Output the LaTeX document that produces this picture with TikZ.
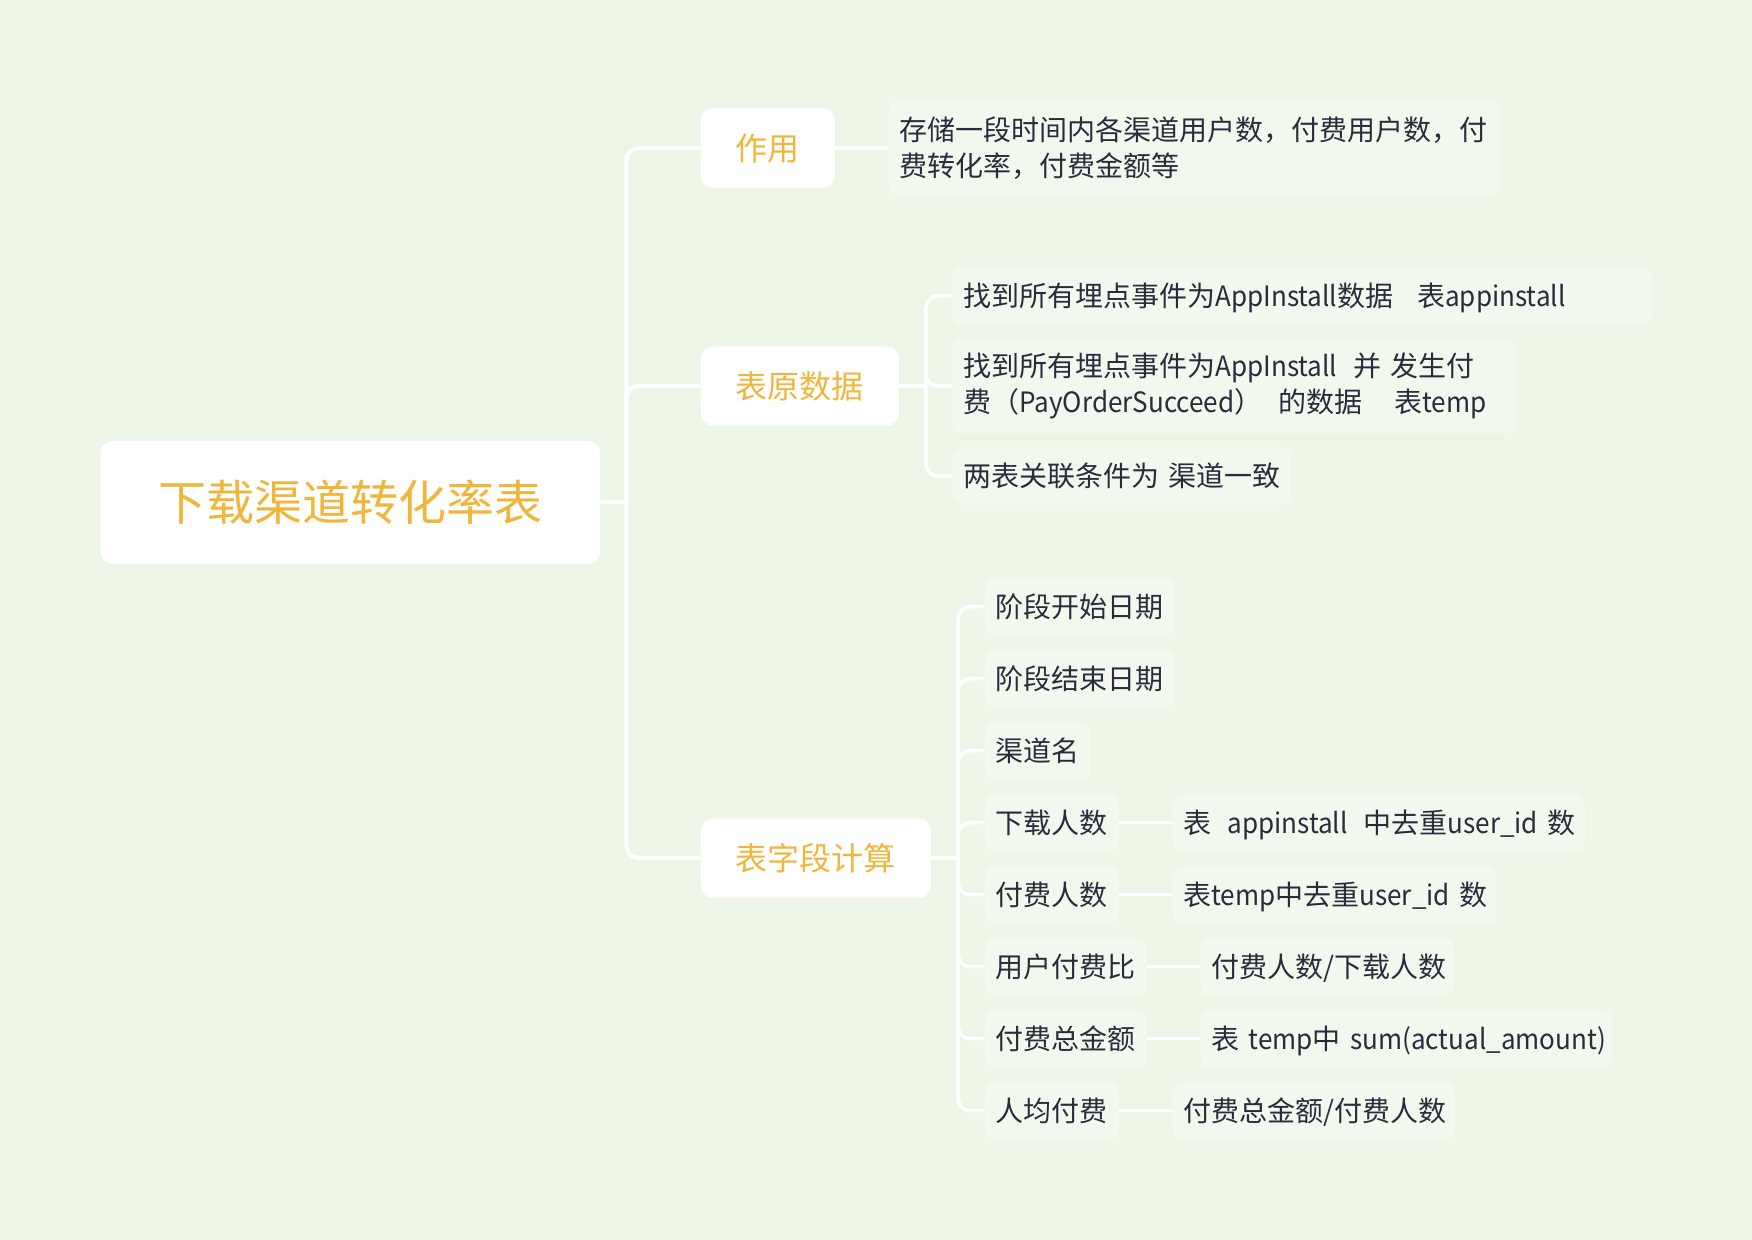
\documentclass[tikz,border=0pt]{standalone}
\usepackage{fontspec}
\setmainfont{Noto Sans CJK SC}
\newfontfamily\lat[FakeStretch=0.93]{Noto Sans CJK SC}
\definecolor{bgc}{HTML}{EDF5E7}
\definecolor{leaffill}{HTML}{F3F8EE}
\definecolor{topicorange}{HTML}{F0B53B}
\definecolor{ink}{HTML}{2A2C3C}
\begin{document}
\begin{tikzpicture}[x=0.5pt,y=-0.5pt,
  rootbox/.style={fill=white, rounded corners=6pt, minimum width=249.7pt, minimum height=61.5pt, inner sep=0pt, font=\fontsize{24}{28}\selectfont, text=topicorange},
  topic/.style={fill=white, rounded corners=6pt, minimum height=39.6pt, inner xsep=17.5pt, inner ysep=0pt, anchor=west, font=\fontsize{16}{19}\selectfont, text=topicorange},
  leaf/.style={fill=leaffill, rounded corners=5pt, inner xsep=5.5pt, inner ysep=0pt, minimum height=29pt, align=left, anchor=west, font=\fontsize{14}{17.8}\selectfont, text=ink},
  oneline/.style={text height=11.6pt, text depth=1pt},
  tw/.style={text width=#1},
  twoline/.style={minimum height=47.5pt},
  conn/.style={draw=white, line width=2pt, rounded corners=6pt},
  subconn/.style={draw=white, line width=1.75pt, rounded corners=6pt}
]
\fill[bgc] (0,0) rectangle (1752,1240);
\useasboundingbox (0,0) rectangle (1752,1240);

% root
\node[rootbox] (root) at (350.3,502.5) {下载渠道转化率表};

% topics
\node[topic] (zy) at (700.5,148) {作用};
\node[topic] (ys) at (700.5,386) {表原数据};
\node[topic] (zd) at (700.5,858) {表字段计算};

% 作用 leaf
\node[leaf, twoline, tw=294.75pt] (zyl) at (888,148) {\mbox{存储一段时间内各渠道用户数，付费用户数，付}\\\mbox{费转化率，付费金额等}};

% 表原数据 leaves
\node[leaf, oneline, tw=338.7pt] (l1) at (952,296) {\mbox{找到所有埋点事件为{\lat AppInstall}数据\hspace{12pt}表{\lat appinstall}}};
\node[leaf, twoline, tw=271pt] (l2) at (952,386) {\mbox{找到所有埋点事件为{\lat AppInstall}\hspace{8pt}并 发生付}\\\mbox{费（{\lat PayOrderSucceed}）\hspace{8pt}的数据\hspace{16pt}表{\lat temp}}};
\node[leaf, oneline, tw=158.25pt] (l3) at (952,476) {\mbox{两表关联条件为 渠道一致}};

% 表字段计算 leaves
\node[leaf, oneline, tw=83.95pt] (f1) at (984.4,606.7) {\mbox{阶段开始日期}};
\node[leaf, oneline, tw=83.95pt] (f2) at (984.4,678.7) {\mbox{阶段结束日期}};
\node[leaf, oneline, tw=42.05pt] (f3) at (984.4,750.7) {\mbox{渠道名}};
\node[leaf, oneline, tw=56pt] (f4) at (984.4,822.7) {\mbox{下载人数}};
\node[leaf, oneline, tw=56pt] (f5) at (984.4,894.7) {\mbox{付费人数}};
\node[leaf, oneline, tw=70pt] (f6) at (984.4,966.7) {\mbox{用户付费比}};
\node[leaf, oneline, tw=70pt] (f7) at (984.4,1038.7) {\mbox{付费总金额}};
\node[leaf, oneline, tw=56pt] (f8) at (984.4,1110.7) {\mbox{人均付费}};

% third level
\node[leaf, oneline, tw=195.2pt] (g4) at (1172,822.7) {\mbox{表\hspace{8pt}{\lat appinstall}\hspace{8pt}中去重{\lat user\_id} 数}};
\node[leaf, oneline, tw=151pt] (g5) at (1172,894.7) {\mbox{表{\lat temp}中去重{\lat user\_id} 数}};
\node[leaf, oneline, tw=115.8pt] (g6) at (1200,966.7) {\mbox{付费人数/下载人数}};
\node[leaf, oneline, tw=195.15pt] (g7) at (1200,1038.7) {\mbox{表 {\lat temp}中 {\lat sum(actual\_amount)}}};
\node[leaf, oneline, tw=130.35pt] (g8) at (1172,1110.7) {\mbox{付费总金额/付费人数}};

% junction points
\path (root.east) ++(26,0) coordinate (rj);
\path (ys.east) ++(26.6,0) coordinate (yj);
\path (zd.east) ++(26.8,0) coordinate (zj);

% connectors
\draw[conn] (root.east) -- (rj);
\draw[conn] (rj) |- (zy.west);
\draw[conn] (rj) |- (ys.west);
\draw[conn] (rj) |- (zd.west);

\draw[subconn] (zy.east) -- (zyl.west);

\draw[subconn] (ys.east) -- (yj);
\foreach \n in {l1,l2,l3}
  \draw[subconn] (yj) |- (\n.west);

\draw[subconn] (zd.east) -- (zj);
\foreach \n in {f1,f2,f3,f4,f5,f6,f7,f8}
  \draw[subconn] (zj) |- (\n.west);

\draw[subconn] (f4.east) -- (g4.west);
\draw[subconn] (f5.east) -- (g5.west);
\draw[subconn] (f6.east) -- (g6.west);
\draw[subconn] (f7.east) -- (g7.west);
\draw[subconn] (f8.east) -- (g8.west);
\end{tikzpicture}
\end{document}
